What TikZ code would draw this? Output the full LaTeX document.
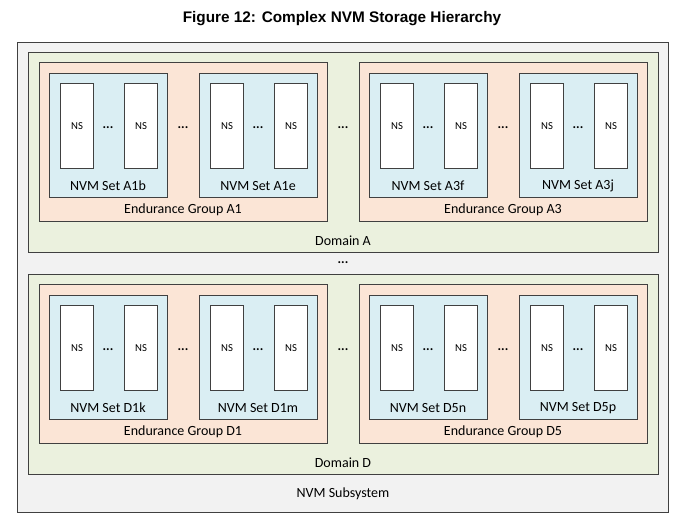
\documentclass[tikz,border=0pt]{standalone}
\usepackage{fontspec}
\setmainfont{Carlito}
\newfontfamily\titlefont{Liberation Sans Bold}
\definecolor{boxline}{HTML}{404040}
\definecolor{subsysfill}{HTML}{F2F2F2}
\definecolor{domainfill}{HTML}{EBF1DE}
\definecolor{egfill}{HTML}{FBE5D6}
\definecolor{setfill}{HTML}{DAEEF3}
\tikzset{
    box/.style n args={2}{draw=boxline,line width=0.8pt,anchor=north west,inner sep=0pt,
        minimum width=#1*0.75pt,minimum height=#2*0.75pt},
    subsysbox/.style={fill=subsysfill},
    domainbox/.style={fill=domainfill},
    egbox/.style={fill=egfill},
    setbox/.style={fill=setfill},
    nsbox/.style={fill=white},
    lbl/.style={font=\fontsize{10.5}{12}\selectfont,inner sep=0pt},
    nslbl/.style={font=\fontsize{8}{9}\selectfont,inner sep=0pt},
    dots/.style={font=\fontsize{10}{11}\selectfont\bfseries,inner sep=0pt}
}
\begin{document}
\begin{tikzpicture}[x=0.75pt,y=-0.75pt]
    \useasboundingbox (0,0) rectangle (683,514);
    %% Title
    \node[font=\titlefont\fontsize{11.5}{13}\selectfont] (title) at (342,19)
        {Figure 12: Complex NVM Storage Hierarchy};
    %% NVM Subsystem
    \node[box={651}{470},subsysbox] (subsys) at (17,42) {};
    \node[lbl] (subsyslbl) at (343,494) {NVM Subsystem};
    %% Domains
    \foreach \dom/\yo in {A/0,D/222} {
        \node[box={630}{200},domainbox] (dom\dom) at (28,{52+\yo}) {};
        \node[lbl] (dom\dom lbl) at (343,{241+\yo}) {Domain \dom};
        \node[dots] (dom\dom egdots) at (343,{128+\yo}) {...};
    }
    \node[dots] (domdots) at (343,263) {...};
    %% Endurance Groups, NVM Sets and Namespaces
    \foreach \dom/\eg/\sa/\sb/\xo/\yo in {A/1/b/e/0/0,A/3/f/j/320/0,D/1/k/m/0/222,D/5/n/p/320/222} {
        \node[box={288}{159},egbox] (eg\dom\eg) at ({39+\xo},{62+\yo}) {};
        \node[lbl] (eg\dom\eg lbl) at ({183+\xo},{210+\yo}) {Endurance Group \dom\eg};
        \node[dots] (eg\dom\eg dots) at ({183+\xo},{128+\yo}) {...};
        \foreach \set/\sx in {\sa/0,\sb/150} {
            \node[box={118}{124},setbox] (set\dom\eg\set) at ({49+\xo+\sx},{73+\yo}) {};
            \node[lbl] (set\dom\eg\set lbl) at ({108+\xo+\sx},{186+\yo}) {NVM Set \dom\eg\set};
            \node[box={33}{85},nsbox] (ns\dom\eg\set a) at ({60+\xo+\sx},{83+\yo}) {};
            \node[box={33}{85},nsbox] (ns\dom\eg\set b) at ({124+\xo+\sx},{83+\yo}) {};
            \node[nslbl] at (ns\dom\eg\set a.center) {NS};
            \node[nslbl] at (ns\dom\eg\set b.center) {NS};
            \node[dots] (set\dom\eg\set dots) at ({108+\xo+\sx},{128+\yo}) {...};
        }
    }
\end{tikzpicture}
\end{document}
